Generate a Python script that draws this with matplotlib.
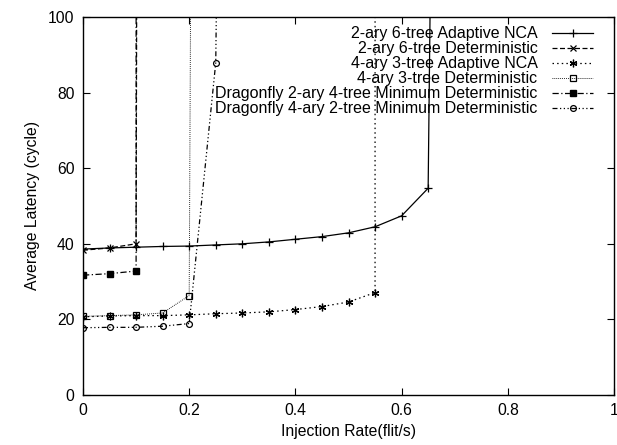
import matplotlib
matplotlib.use("Agg")
import matplotlib.pyplot as plt

plt.rcParams['font.family'] = ['Liberation Sans', 'DejaVu Sans']

labels = ["2-ary 6-tree Adaptive NCA",
          "2-ary 6-tree Deterministic",
          "4-ary 3-tree Adaptive NCA",
          "4-ary 3-tree Deterministic",
          "Dragonfly 2-ary 4-tree Minimum Deterministic",
          "Dragonfly 4-ary 2-tree Minimum Deterministic"]

x1 = [0, 0.05, 0.1, 0.15, 0.2, 0.25, 0.3, 0.35, 0.4, 0.45, 0.5, 0.55, 0.6, 0.65, 0.7]
y1 = [38.6, 38.9, 39.1, 39.3, 39.4, 39.7, 40.0, 40.5, 41.2, 41.9, 42.9, 44.5, 47.4, 54.7, 700]

x2 = [0, 0.05, 0.1, 0.15]
y2 = [38.3, 38.9, 40.0, 3000]

x3 = [0, 0.05, 0.1, 0.15, 0.2, 0.25, 0.3, 0.35, 0.4, 0.45, 0.5, 0.55, 0.6]
y3 = [20.7, 20.9, 21.0, 21.0, 21.2, 21.5, 21.7, 22.0, 22.6, 23.4, 24.6, 27.1, 100000]

x4 = [0, 0.05, 0.1, 0.15, 0.2, 0.25]
y4 = [20.8, 21.0, 21.2, 21.7, 26.3, 1500]

x5 = [0, 0.05, 0.1, 0.15]
y5 = [31.7, 32.1, 32.8, 100000]

x6 = [0, 0.05, 0.1, 0.15, 0.2, 0.25, 0.3]
y6 = [17.8, 17.9, 17.9, 18.2, 18.9, 87.9, 700]

xticks = [0, 0.2, 0.4, 0.6, 0.8, 1]
xticklabels = ["0", "0.2", "0.4", "0.6", "0.8", "1"]
yticks = [0, 20, 40, 60, 80, 100]

FS = 11.3
LFS = 11.5

fig = plt.figure(figsize=(6.17, 4.45), dpi=100)
ax = fig.add_axes([83/617, 50/445, 531/617, 378/445])

lw = 0.9
ax.plot(x1, y1, color='black', lw=lw, ls='-', marker='+', ms=5.5, mew=0.9, label=labels[0])
ax.plot(x2, y2, color='black', lw=lw, ls=(0, (4, 2)), marker='x', ms=4, mew=0.9, label=labels[1])
ax.plot(x3, y3, color='black', lw=lw, ls=(0, (1.2, 2.5)), marker=(6, 2, 0), ms=5.5, mew=0.9, label=labels[2])
ax.plot(x4, y4, color='black', lw=0.7, ls=(0, (0.8, 1.2)), marker='s', ms=4.5, mfc='none', mew=0.9, label=labels[3])
ax.plot(x5, y5, color='black', lw=lw, ls=(0, (5, 2, 1, 2)), marker='s', ms=4.5, mfc='black', label=labels[4])
ax.plot(x6, y6, color='black', lw=lw, ls=(0, (4, 2, 1, 2, 1, 2, 1, 2)), marker='o', ms=4.2, mfc='none', mew=0.9, label=labels[5])

ax.set_xlim(0, 1)
ax.set_ylim(0, 100)
ax.set_xticks(xticks)
ax.set_xticklabels(xticklabels)
ax.set_yticks(yticks)
ax.tick_params(direction='in', length=5, width=0.8, top=True, right=True, labelsize=FS, pad=6)
for s in ax.spines.values():
    s.set_linewidth(1.0)

ax.set_xlabel("Injection Rate(flit/s)", fontsize=FS, labelpad=4)
ax.set_ylabel("Average Latency (cycle)", fontsize=FS, labelpad=6)

leg = ax.legend(loc='upper right', bbox_to_anchor=(0.9704, 0.9876), frameon=False,
                markerfirst=False, fontsize=LFS,
                handlelength=2.6, labelspacing=0.0, handletextpad=0.9,
                borderaxespad=0.0, borderpad=0.3)

fig.savefig("out.png", dpi=100)
